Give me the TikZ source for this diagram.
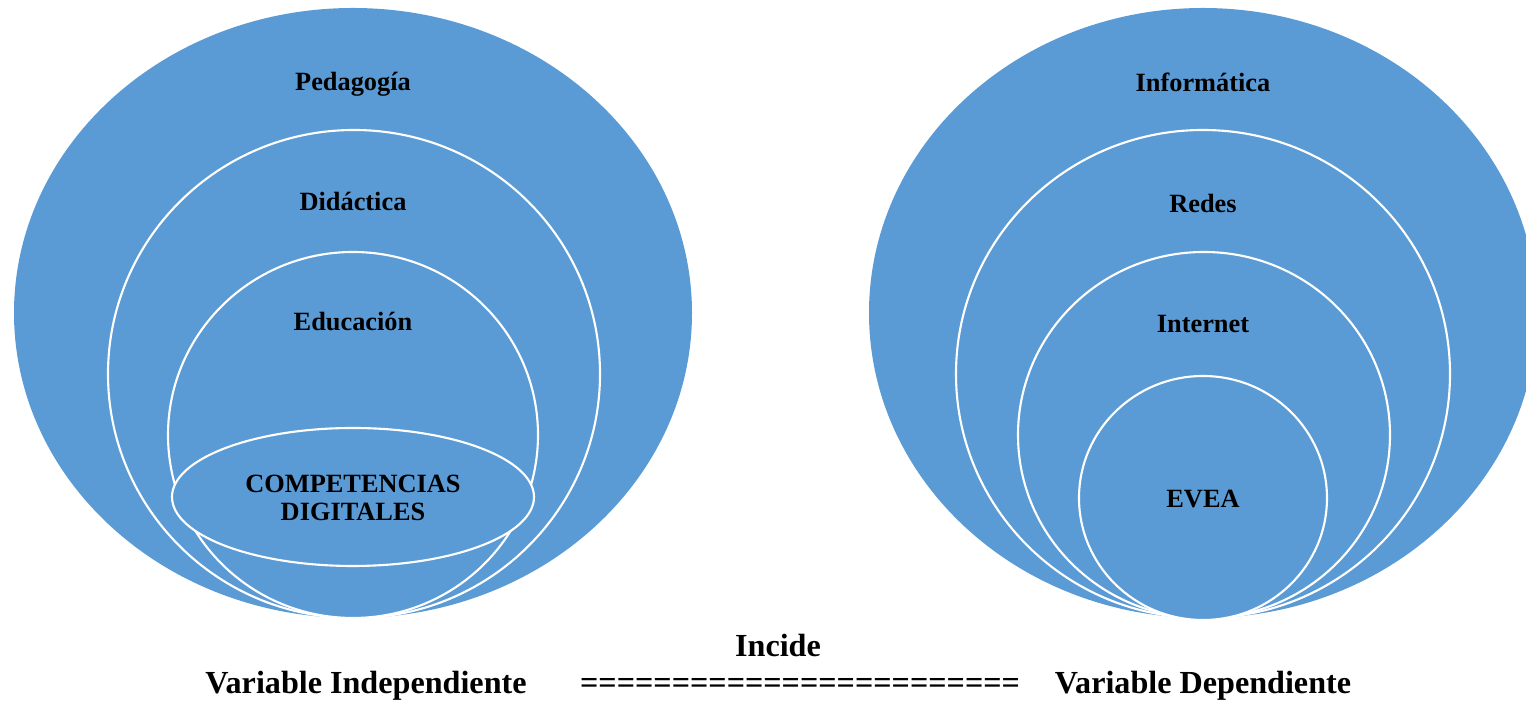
\documentclass[tikz,border=0pt]{standalone}
\usepackage{fontspec}
\setmainfont{Liberation Serif}
\definecolor{azul}{HTML}{5B9BD5}

\begin{document}
\begin{tikzpicture}[x=0.02cm, y=0.02cm,
        capa/.style={fill=azul, draw=white, line width=1.2pt},
        etiqueta/.style={font=\fontsize{15}{16}\selectfont\bfseries, anchor=base},
        pie/.style={font=\fontsize{18.3}{20}\selectfont\bfseries, anchor=base}]
        \useasboundingbox (0,0) rectangle (1526,702);
        \clip (0,0) rectangle (1526,702);

        % Variable independiente
        \begin{scope}[shift={(353,0)}]
            \fill[azul] (0,389) ellipse [x radius=339, y radius=305];
            \draw[capa] (1,328) ellipse [x radius=246, y radius=244];
            \draw[capa] (0,267) ellipse [x radius=185, y radius=183];
            \draw[capa] (0,205) ellipse [x radius=181, y radius=69];

            \node[etiqueta] (pedagogia) at (0,611) {Pedagogía};
            \node[etiqueta] (didactica) at (0,491) {Didáctica};
            \node[etiqueta] (educacion) at (0,371) {Educación};
            \node[etiqueta, anchor=center, align=center] (competencias) at (0,204)
                {COMPETENCIAS\\DIGITALES};
        \end{scope}

        % Variable dependiente
        \begin{scope}[shift={(1203,0)}]
            \fill[azul] (0,389) ellipse [x radius=334, y radius=305];
            \draw[capa] (0,328) ellipse [x radius=247, y radius=244];
            \draw[capa] (1,267) ellipse [x radius=186, y radius=183];
            \draw[capa] (0,204) ellipse [x radius=124, y radius=122];

            \node[etiqueta] (informatica) at (0,610) {Informática};
            \node[etiqueta] (redes) at (0,489) {Redes};
            \node[etiqueta] (internet) at (0,369) {Internet};
            \node[etiqueta] (evea) at (0,194) {EVEA};
        \end{scope}

        % Pie
        \node[pie] (incide) at (778,45) {Incide};
        \node[pie] (vind) at (366,8) {Variable Independiente};
        \node[pie] (igual) at (800,8) {========================};
        \node[pie] (vdep) at (1203,8) {Variable Dependiente};
    \end{tikzpicture}
\end{document}
